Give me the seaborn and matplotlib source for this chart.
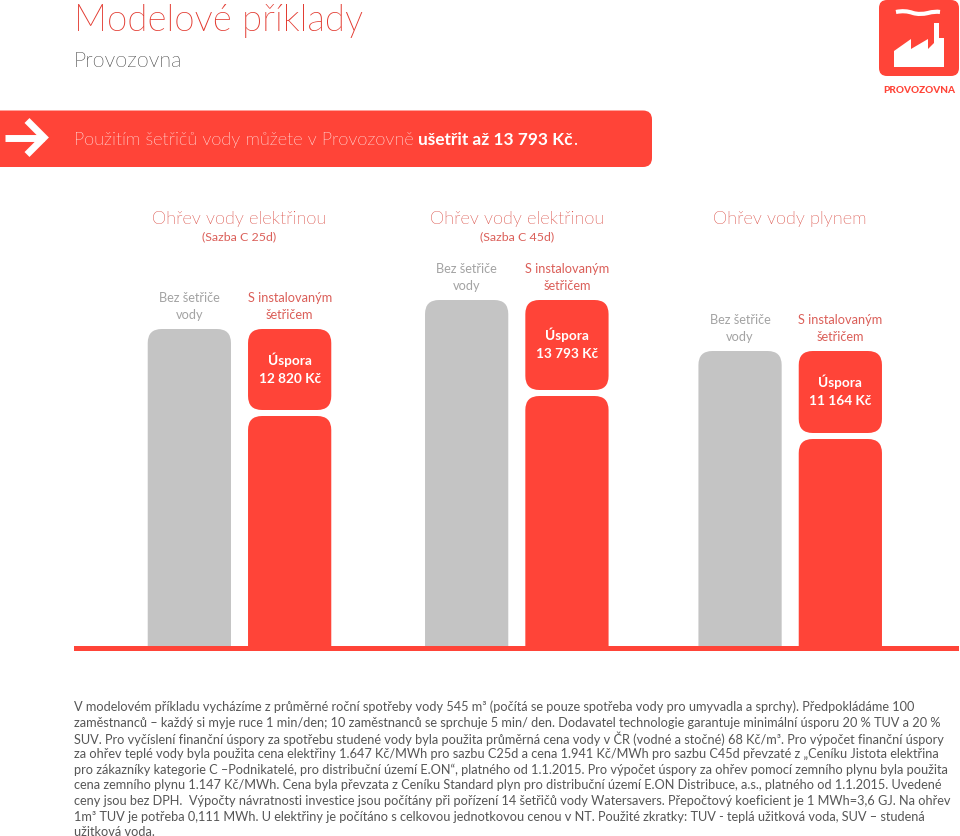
"""Modelove priklady - Provozovna: rounded bar panels built on seaborn barplots."""
import matplotlib
matplotlib.use("Agg")
import matplotlib.font_manager as fm
import matplotlib.pyplot as plt
import pandas as pd
import seaborn as sns
from matplotlib.patches import FancyBboxPatch, PathPatch, Polygon
from matplotlib.path import Path

FIG_W, FIG_H = 960, 837

RED = "#FF4438"
GREY = "#C4C4C4"
TITLE_RED = "#E2382E"
LABEL_RED = "#DB5F59"
HEAD_RED = "#D8453C"
LABEL_GREY = "#A3A3A3"
TEXT = "#565656"

# ---------------------------------------------------------------------------
# Data (bar heights)
# ---------------------------------------------------------------------------
headings = ["Ohřev vody elektřinou", "Ohřev vody elektřinou", "Ohřev vody plynem"]
tariffs = ["(Sazba C 25d)", "(Sazba C 45d)", ""]
without_saver = [317, 346, 295]
with_saver = [230, 250, 207]
saving_block = [81, 90, 82]
saving_labels = ["12 820 Kč", "13 793 Kč", "11 164 Kč"]
categories = ["Bez šetřiče\nvody", "S instalovaným\nšetřičem"]

note_lines = [
    "V modelovém příkladu vycházíme z průměrné roční spotřeby vody 545 m³ (počítá se pouze spotřeba vody pro umyvadla a sprchy). Předpokládáme 100",
    "zaměstnanců – každý si myje ruce 1 min/den; 10 zaměstnanců se sprchuje 5 min/ den. Dodavatel technologie garantuje minimální úsporu 20 % TUV a 20 %",
    "SUV. Pro vyčíslení finanční úspory za spotřebu studené vody byla použita průměrná cena vody v ČR (vodné a stočné) 68 Kč/m³. Pro výpočet finanční úspory",
    "za ohřev teplé vody byla použita cena elektřiny 1.647 Kč/MWh pro sazbu C25d a cena 1.941 Kč/MWh pro sazbu C45d převzaté z „Ceníku Jistota elektřina",
    "pro zákazníky kategorie C –Podnikatelé, pro distribuční území E.ON“, platného od 1.1.2015. Pro výpočet úspory za ohřev pomocí zemního plynu byla použita",
    "cena zemního plynu 1.147 Kč/MWh. Cena byla převzata z Ceníku Standard plyn pro distribuční území E.ON Distribuce, a.s., platného od 1.1.2015. Uvedené",
    "ceny jsou bez DPH.  Výpočty návratnosti investice jsou počítány při pořízení 14 šetřičů vody Watersavers. Přepočtový koeficient je 1 MWh=3,6 GJ. Na ohřev",
    "1m³ TUV je potřeba 0,111 MWh. U elektřiny je počítáno s celkovou jednotkovou cenou v NT. Použité zkratky: TUV - teplá užitková voda, SUV – studená",
    "užitková voda.",
]

BAR_GAP = 6
PANEL_LEFT = [139.2, 416.5, 689.9]
PANEL_W = 200.6
BASELINE = 647
RADIUS = 14

sns.set_theme(style="white")
plt.rcParams["font.family"] = ["Lato", "DejaVu Sans"]

# "light" resolves to the hairline cut, so look the Light file up by name
light_files = [f.fname for f in fm.fontManager.ttflist
               if f.name == "Lato" and "Light" in f.fname and "Italic" not in f.fname]


def light(size):
    if light_files:
        return fm.FontProperties(fname=light_files[0], size=size)
    return fm.FontProperties(family="Lato", size=size)


def round_bars(ax, extend=0):
    """Swap the rectangles seaborn just drew for rounded ones of the same size."""
    for bar in list(ax.patches):
        if not isinstance(bar, plt.Rectangle) or bar.get_height() == 0:
            continue
        x, y = bar.get_x(), bar.get_y()
        w, h = bar.get_width(), bar.get_height()
        unit = ax.get_xlim()[1] - ax.get_xlim()[0]
        x_per_px = unit / PANEL_W
        rounded = FancyBboxPatch(
            (x, y - extend), w, h + extend,
            boxstyle=f"round,pad=0,rounding_size={RADIUS * x_per_px}",
            mutation_aspect=1 / x_per_px,
            facecolor=bar.get_facecolor(), edgecolor="none",
            zorder=bar.get_zorder(),
        )
        bar.remove()
        ax.add_artist(rounded)
        rounded.set_clip_path(ax.patch)


fig = plt.figure(figsize=(FIG_W / 100, FIG_H / 100), dpi=100)
page = fig.add_axes([0, 0, 1, 1])
page.set_xlim(0, FIG_W)
page.set_ylim(FIG_H, 0)
page.axis("off")

# header
page.text(74, 21, "Modelové příklady", color=TITLE_RED, fontproperties=light(26.5), va="center")
page.text(74, 61, "Provozovna", color="#3F3F3F", fontproperties=light(15.5), va="center")
page.add_patch(FancyBboxPatch((-20, 111.5), 672, 56.5, boxstyle="round,pad=0,rounding_size=9",
                              facecolor=RED, edgecolor="none"))
page.plot([5, 44], [138.5, 138.5], color="white", lw=5, solid_capstyle="butt")
page.plot([27, 44, 27], [121.5, 138.5, 155.5], color="white", lw=5, solid_joinstyle="miter", solid_capstyle="butt")

page.text(74, 140, "Použitím šetřičů vody můžete v Provozovně", color="#FFF0EE",
          fontproperties=light(13.03), va="center")
page.text(418, 140, "ušetřit až 13 793 Kč", color="white", fontsize=12.4, va="center", weight="bold")
page.text(573, 140, ".", color="white", fontsize=12.4, va="center")

# logo
page.add_patch(FancyBboxPatch((879, 1), 80, 76, boxstyle="round,pad=0,rounding_size=8",
                              facecolor=RED, edgecolor="none"))
page.add_patch(Polygon([(894, 68), (894, 52), (911, 40), (911, 50), (928, 40), (928, 50), (934, 44),
                        (934, 24), (939, 24), (939, 39), (944, 39), (944, 68)],
                       facecolor="white", edgecolor="none"))
wave = Path([(896, 13), (905, 11), (913, 14), (920, 16), (928, 14), (935, 12), (940, 13)],
            [Path.MOVETO, Path.CURVE3, Path.CURVE3, Path.CURVE3, Path.CURVE3, Path.CURVE3, Path.CURVE3])
page.add_patch(PathPatch(wave, facecolor="none", edgecolor="white", lw=3))
page.text(919, 90, "PROVOZOVNA", color=RED, fontsize=7.2, ha="center", va="center", weight="black")

# the three panels
for i in range(3):
    left = PANEL_LEFT[i]
    ax = fig.add_axes([left / FIG_W, 1 - BASELINE / FIG_H, PANEL_W / FIG_W, BASELINE / FIG_H])
    ax.patch.set_alpha(0)

    base = pd.DataFrame({"kind": categories, "height": [without_saver[i], with_saver[i]]})
    sns.barplot(data=base, x="kind", y="height", hue="kind", order=categories, hue_order=categories,
                palette=[GREY, RED], width=0.83, dodge=False, legend=False, saturation=1, ax=ax)
    ax.set_ylim(0, BASELINE)
    ax.set_xlim(-0.5, 1.5)
    round_bars(ax, extend=30)

    top = pd.DataFrame({"kind": categories[1:], "height": [saving_block[i]]})
    sns.barplot(data=top, x="kind", y="height", order=categories, color=RED, width=0.83, saturation=1,
                bottom=with_saver[i] + BAR_GAP, ax=ax)
    ax.set_ylim(0, BASELINE)
    ax.set_xlim(-0.5, 1.5)
    round_bars(ax)
    ax.axis("off")

    # labels above the bars
    ax.text(0, without_saver[i] + 9, categories[0], color=LABEL_GREY, fontsize=9.2, ha="center", va="bottom",
            linespacing=1.45)
    ax.text(1, without_saver[i] + 9, categories[1], color=LABEL_RED, fontsize=9.2, ha="center", va="bottom",
            linespacing=1.45)
    ax.text(1, with_saver[i] + BAR_GAP + saving_block[i] / 2 + 2, "Úspora\n" + saving_labels[i], color="white",
            fontsize=9.8, ha="center", va="center", weight="bold", linespacing=1.6)

    # panel heading
    page.text(left + PANEL_W / 2, 219, headings[i], color=HEAD_RED, fontproperties=light(13.1),
              ha="center", va="center")
    if tariffs[i]:
        page.text(left + PANEL_W / 2, 237, tariffs[i], color=LABEL_RED, fontsize=8.9, ha="center", va="center")

# baseline rule
page.set_zorder(0)
rule = fig.add_axes([73.5 / FIG_W, 1 - 652 / FIG_H, 885.5 / FIG_W, 5.3 / FIG_H])
rule.set_facecolor(RED)
rule.set_xticks([])
rule.set_yticks([])
sns.despine(ax=rule, left=True, bottom=True)

# footnote
for n, line in enumerate(note_lines):
    page.text(73.5, 707 + n * 15.65, line, color=TEXT, fontsize=9.2, va="center")

fig.savefig("out.png", dpi=100)
plt.close("all")
